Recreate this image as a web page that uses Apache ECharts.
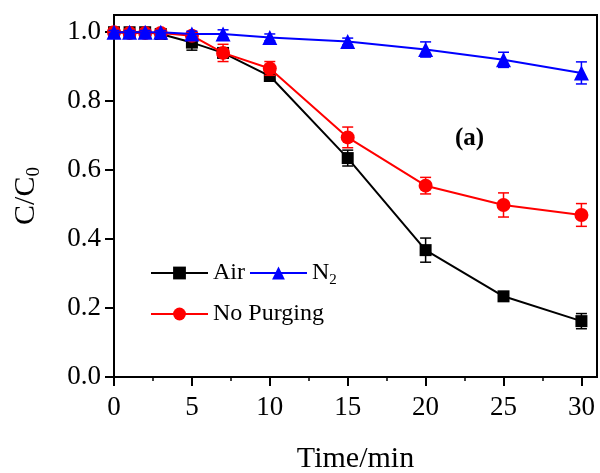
<!DOCTYPE html>
<html>
<head>
<meta charset="utf-8">
<script src="https://cdn.jsdelivr.net/npm/echarts@6/dist/echarts.min.js"></script>
<style>
  html, body { margin: 0; padding: 0; background: #fff; }
  #chart { width: 600px; height: 473px; }
</style>
</head>
<body>
<div id="chart"></div>
<script>
// time points (min)
const times = [0, 1, 2, 3, 5, 7, 10, 15, 20, 25, 30];

// C/C0 values and error bars
const airVals = [1.0, 1.0, 1.0, 0.995, 0.97, 0.94, 0.873, 0.635, 0.368, 0.234, 0.162];
const airErr  = [0.005, 0.005, 0.005, 0.008, 0.022, 0.01, 0.01, 0.023, 0.035, 0.005, 0.022];

const n2Vals = [1.0, 1.0, 1.0, 1.0, 0.995, 0.995, 0.985, 0.973, 0.95, 0.92, 0.882];
const n2Err  = [0.005, 0.005, 0.005, 0.005, 0.008, 0.012, 0.01, 0.01, 0.022, 0.022, 0.032];

const npVals = [1.0, 0.998, 0.998, 0.998, 0.99, 0.94, 0.895, 0.695, 0.555, 0.499, 0.47];
const npErr  = [0.005, 0.005, 0.005, 0.005, 0.01, 0.025, 0.02, 0.03, 0.024, 0.035, 0.033];

const xTicks = [0, 5, 10, 15, 20, 25, 30];
const xMinor = [2.5, 7.5, 12.5, 17.5, 22.5, 27.5];
const yTicks = [0, 0.2, 0.4, 0.6, 0.8, 1.0];

const FONT = '"Liberation Serif", "Times New Roman", serif';

function pairs(vals) {
  return times.map((t, i) => [t, vals[i]]);
}

function errData(vals, errs) {
  return times.map((t, i) => [t, vals[i] - errs[i], vals[i] + errs[i]]);
}

// vertical error bar with caps
function errorBarSeries(name, color, vals, errs, z) {
  return {
    type: 'custom',
    name: name + '_err',
    z: z,
    data: errData(vals, errs),
    renderItem: function (params, api) {
      const lo = api.coord([api.value(0), api.value(1)]);
      const hi = api.coord([api.value(0), api.value(2)]);
      const hw = 5.5;
      const style = { stroke: color, lineWidth: 1.5, fill: null };
      return {
        type: 'group',
        children: [
          { type: 'line', shape: { x1: lo[0], y1: lo[1], x2: hi[0], y2: hi[1] }, style },
          { type: 'line', shape: { x1: lo[0] - hw, y1: lo[1], x2: lo[0] + hw, y2: lo[1] }, style },
          { type: 'line', shape: { x1: hi[0] - hw, y1: hi[1], x2: hi[0] + hw, y2: hi[1] }, style }
        ]
      };
    },
    silent: true
  };
}

function lineSeries(name, color, symbol, size, vals, z) {
  return {
    type: 'line',
    name: name,
    z: z,
    data: pairs(vals),
    symbol: symbol,
    symbolSize: size,
    showAllSymbol: true,
    lineStyle: { color: color, width: 2 },
    itemStyle: { color: color },
    emphasis: { disabled: true }
  };
}

const chart = echarts.init(document.getElementById('chart'), null, { renderer: 'canvas' });

const legendText = {
  fontFamily: FONT,
  fontSize: 24,
  color: '#000',
  rich: {
    sub: { fontFamily: FONT, fontSize: 15, color: '#000', verticalAlign: 'bottom', padding: [14, 0, 0, 0] }
  }
};

chart.setOption({
  animation: false,
  backgroundColor: '#fff',
  grid: {
    left: 114, top: 15, right: 3, bottom: 96,
    outerBoundsMode: 'none',
    show: true, borderColor: '#000', borderWidth: 2, backgroundColor: 'transparent'
  },
  xAxis: [{
    type: 'value',
    min: 0, max: 31,
    name: 'Time/min',
    nameLocation: 'middle',
    nameGap: 67,
    nameTextStyle: { fontFamily: FONT, fontSize: 30, color: '#000' },
    axisLine: { lineStyle: { color: '#000', width: 2 } },
    axisTick: { inside: false, length: 9, lineStyle: { color: '#000', width: 2 }, customValues: xTicks },
    axisLabel: { fontFamily: FONT, fontSize: 27, color: '#000', margin: 17, customValues: xTicks },
    splitLine: { show: false }
  }, {
    type: 'value',
    min: 0, max: 31,
    position: 'bottom',
    axisLine: { show: false },
    axisTick: { inside: false, length: 4, lineStyle: { color: '#000', width: 1.5 }, customValues: xMinor },
    axisLabel: { show: false },
    splitLine: { show: false }
  }],
  yAxis: {
    type: 'value',
    min: 0, max: 1.05,
    name: 'C/C{sub|0}',
    nameLocation: 'middle',
    nameGap: 70,
    nameTextStyle: {
      fontFamily: FONT, fontSize: 30, color: '#000',
      rich: { sub: { fontFamily: FONT, fontSize: 19, color: '#000', verticalAlign: 'bottom', padding: [16, 0, 0, 0] } }
    },
    axisLine: { show: true, lineStyle: { color: '#000', width: 2 } },
    axisTick: { show: true, inside: false, length: 9, lineStyle: { color: '#000', width: 2 }, customValues: yTicks },
    axisLabel: {
      fontFamily: FONT, fontSize: 27, color: '#000', margin: 13, customValues: yTicks,
      formatter: v => v.toFixed(1)
    },
    splitLine: { show: false }
  },
  legend: [{
    data: ['Air', 'N2'],
    left: 145, top: 256,
    orient: 'horizontal',
    itemWidth: 57, itemHeight: 16, itemGap: 4,
    selectedMode: false,
    formatter: n => n === 'N2' ? 'N{sub|2}' : n,
    textStyle: legendText
  }, {
    data: ['No Purging'],
    left: 145, top: 297,
    itemWidth: 57, itemHeight: 16,
    selectedMode: false,
    textStyle: legendText
  }],
  graphic: [{
    type: 'text',
    left: 455, top: 126,
    style: { text: '(a)', fontFamily: FONT, fontSize: 25, fontWeight: 'bold', fill: '#000' }
  }],
  series: [
    errorBarSeries('Air', '#000', airVals, airErr, 2),
    lineSeries('Air', '#000', 'rect', 12, airVals, 3),
    errorBarSeries('No Purging', '#ff0000', npVals, npErr, 4),
    lineSeries('No Purging', '#ff0000', 'circle', 14, npVals, 5),
    errorBarSeries('N2', '#0000ff', n2Vals, n2Err, 6),
    lineSeries('N2', '#0000ff', 'triangle', 15, n2Vals, 7)
  ]
});
</script>
</body>
</html>
